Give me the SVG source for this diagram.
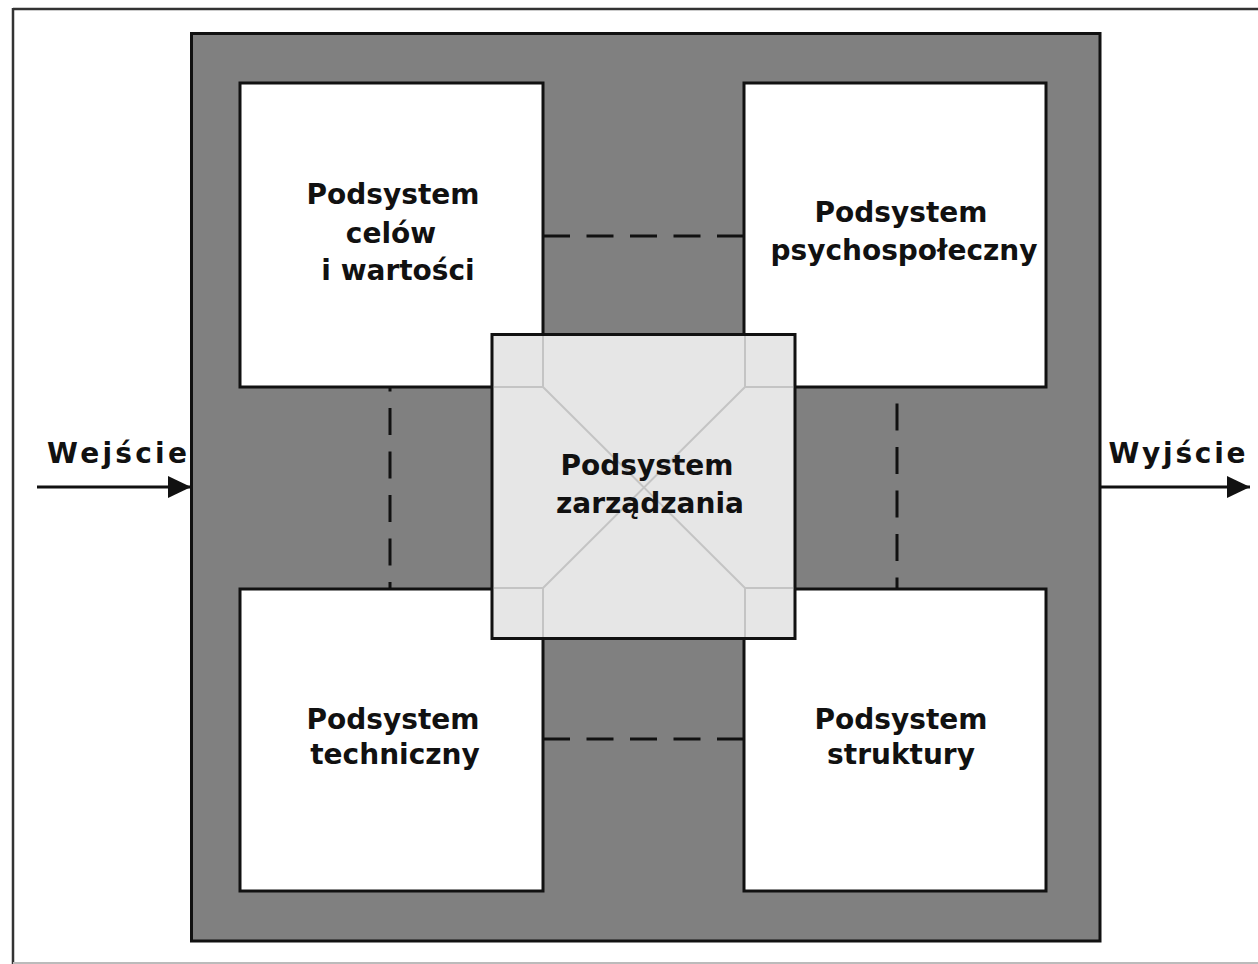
<svg xmlns="http://www.w3.org/2000/svg" width="1258" height="964" viewBox="0 0 1258 964">
<style>
.box{fill:#ffffff;stroke:#111;stroke-width:3}
.lbl{font-family:"DejaVu Sans","Liberation Sans",sans-serif;font-weight:bold;font-size:28px;fill:#111;text-anchor:middle}
.dash{stroke:#111;stroke-width:3;fill:none;stroke-dasharray:27 16.5}
.thin{stroke:#c4c4c4;stroke-width:2;fill:none}
</style>
<defs>
<marker id="ah" markerWidth="23" markerHeight="22" refX="10" refY="5" orient="auto" markerUnits="userSpaceOnUse" viewBox="0 0 10 10" preserveAspectRatio="none">
<path d="M0,0 L10,5 L0,10 Z" fill="#111"/>
</marker>
</defs>
<rect x="0" y="0" width="1258" height="964" fill="#ffffff"/>
<g id="frame">
<line x1="13" y1="9" x2="1258" y2="9" stroke="#333" stroke-width="2.5"/>
<line x1="13" y1="8" x2="13" y2="964" stroke="#333" stroke-width="2.5"/>
<line x1="13" y1="963" x2="1258" y2="963" stroke="#bbb" stroke-width="2"/>
</g>
<g id="system">
<rect x="191.5" y="33.5" width="908.5" height="907.5" fill="#808080" stroke="#111" stroke-width="3"/>
</g>
<g id="connectors">
<line class="dash" x1="543" y1="236" x2="744" y2="236"/>
<line class="dash" x1="543" y1="739" x2="744" y2="739"/>
<line class="dash" x1="390" y1="387" x2="390" y2="589" stroke-dashoffset="22.5"/>
<line class="dash" x1="897" y1="387" x2="897" y2="589" stroke-dashoffset="27"/>
<line x1="37" y1="487" x2="191" y2="487" stroke="#111" stroke-width="3" marker-end="url(#ah)"/>
<line x1="1101" y1="487" x2="1250" y2="487" stroke="#111" stroke-width="3" marker-end="url(#ah)"/>
</g>
<g id="cele">
<rect class="box" x="240" y="83" width="303" height="304"/>
<text class="lbl" x="393" y="204">Podsystem</text>
<text class="lbl" x="391" y="243">celów</text>
<text class="lbl" x="398" y="280">i wartości</text>
</g>
<g id="psycho">
<rect class="box" x="744" y="83" width="302" height="304"/>
<text class="lbl" x="901" y="222">Podsystem</text>
<text class="lbl" x="904" y="260">psychospołeczny</text>
</g>
<g id="techniczny">
<rect class="box" x="240" y="589" width="303" height="302"/>
<text class="lbl" x="393" y="729">Podsystem</text>
<text class="lbl" x="395" y="764">techniczny</text>
</g>
<g id="struktura">
<rect class="box" x="744" y="589" width="302" height="302"/>
<text class="lbl" x="901" y="729">Podsystem</text>
<text class="lbl" x="901" y="764">struktury</text>
</g>
<g id="zarzadzanie">
<rect x="492" y="334.5" width="303" height="304" fill="#e6e6e6" stroke="#111" stroke-width="3"/>
<path class="thin" d="M543,336 V387 H494 M745,336 V387 H793 M543,637 V588 H494 M745,637 V588 H793 M543,387 L745,588 M745,387 L543,588"/>
<text class="lbl" x="647" y="475">Podsystem</text>
<text class="lbl" x="650" y="513">zarządzania</text>
</g>
<g id="wejscie">
<text class="lbl" x="117" y="463" textLength="140" lengthAdjust="spacing">Wejście</text>
</g>
<g id="wyjscie">
<text class="lbl" x="1177" y="463" textLength="137" lengthAdjust="spacing">Wyjście</text>
</g>
</svg>
